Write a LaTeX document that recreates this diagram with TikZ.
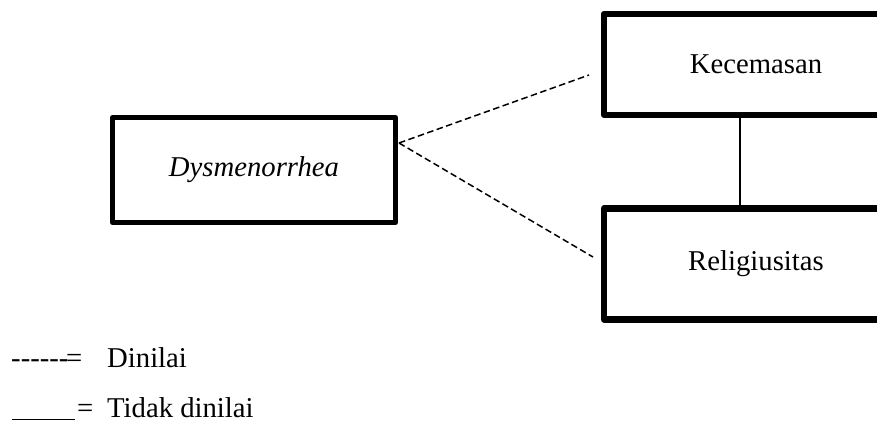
\documentclass[tikz,border=0pt]{standalone}
\usepackage{fontspec}
\setmainfont{Liberation Serif}
\newcommand\hy{\hbox{-}}
\begin{document}
\begin{tikzpicture}[x=1pt,y=-1pt,
  lbl/.style={font=\fontsize{28.7}{34}\selectfont, inner sep=0pt},
  varbox/.style={draw, line join=round, inner sep=0pt, lbl},
  rated/.style={dashed, dash pattern=on 6.5pt off 3.5pt, line width=1.5pt},
  unrated/.style={line width=2pt}]
  \useasboundingbox (0,0) rectangle (877,421);

  % variable boxes
  \node[varbox, line width=5pt, minimum width=283pt, minimum height=105pt]
    (dys) at (254,170) {\itshape Dysmenorrhea};
  \node[varbox, line width=6.5pt, minimum width=304pt, minimum height=100.7pt]
    (kec) at (756,64.4) {Kecemasan};
  \node[varbox, line width=6.5pt, minimum width=304pt, minimum height=111pt]
    (rel) at (756,263.9) {Religiusitas};

  % connectors
  \coordinate (src) at (399,143);
  \coordinate (kecend) at (589,75);
  \coordinate (relend) at (593,257);
  \coordinate (link) at (740,0);
  \draw[rated] (src) -- (kecend);
  \draw[rated] (src) -- (relend);
  \draw[unrated] (kec.south -| link) -- (rel.north -| link);

  % legend
  \node[lbl, anchor=base west] (dashkey) at (11,367) {\hy\hy\hy\hy\hy\hy};
  \node[lbl, anchor=base west] (eq1) at (66,367) {=};
  \node[lbl, anchor=base west] (dinilai) at (107,367) {Dinilai};
  \coordinate (ula) at (12,419.5);
  \coordinate (ulb) at (75,419.5);
  \draw[line width=1pt] (ula) -- (ulb);
  \node[lbl, anchor=base west] (eq2) at (77,417) {=};
  \node[lbl, anchor=base west] (tidak) at (107,417) {Tidak dinilai};
\end{tikzpicture}
\end{document}
